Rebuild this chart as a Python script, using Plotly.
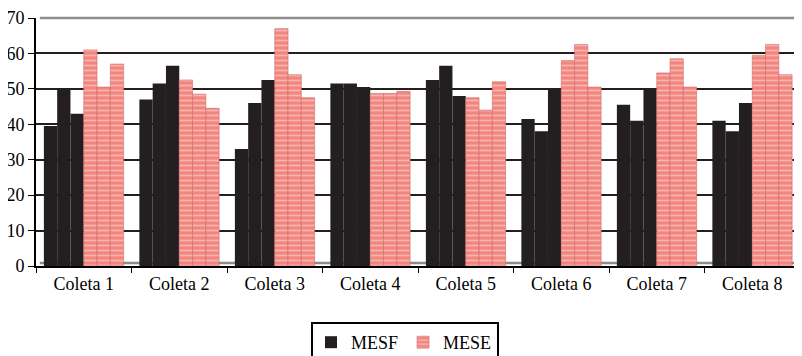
import plotly.graph_objects as go

categories = ["Coleta 1", "Coleta 2", "Coleta 3", "Coleta 4", "Coleta 5", "Coleta 6", "Coleta 7", "Coleta 8"]

# MESF (black) - three bars per collection
mesf_a = [39.5, 47, 33, 51.5, 52.5, 41.5, 45.5, 41]
mesf_b = [50, 51.5, 46, 51.5, 56.5, 38, 41, 38]
mesf_c = [43, 56.5, 52.5, 50.5, 48, 50, 50, 46]

# MESE (pink pattern) - three bars per collection
mese_a = [61, 52.5, 67, 48.7, 47.5, 58, 54.5, 59.5]
mese_b = [50.5, 48.5, 54, 48.7, 44, 62.5, 58.5, 62.5]
mese_c = [57, 44.5, 47.5, 49.3, 52, 50.5, 50.5, 54]

y_ticks = [0, 10, 20, 30, 40, 50, 60, 70]

BLACK = "#231f20"
PINK = "#f3857f"
FONT = "Liberation Serif, Times New Roman, serif"

fig = go.Figure()

for i, vals in enumerate([mesf_a, mesf_b, mesf_c]):
    fig.add_trace(go.Bar(
        x=categories, y=vals, name="MESF", legendgroup="MESF",
        showlegend=(i == 0),
        marker=dict(color=BLACK, line=dict(width=0)),
    ))

for i, vals in enumerate([mese_a, mese_b, mese_c]):
    fig.add_trace(go.Bar(
        x=categories, y=vals, name="MESE", legendgroup="MESE",
        showlegend=(i == 0),
        marker=dict(color=PINK,
                    line=dict(color="#d06a66", width=0.6),
                    pattern=dict(shape="-", fgcolor="#fde3e1", bgcolor=PINK, size=5,
                                 solidity=0.35, fillmode="overlay")),
    ))

fig.update_layout(
    width=802, height=356,
    margin=dict(l=28, r=10, t=10, b=98, autoexpand=False),
    paper_bgcolor="white", plot_bgcolor="white",
    barmode="group", bargap=0.165, bargroupgap=0,
    font=dict(family=FONT, size=18, color="black"),
    legend=dict(orientation="h", x=0.483, xanchor="center",
                yref="container", y=1 - 314 / 356, yanchor="top",
                bordercolor="black", borderwidth=2, font=dict(size=18, family=FONT),
                itemwidth=30, tracegroupgap=0),
    showlegend=True,
)

fig.update_xaxes(
    type="category", showgrid=False, showline=True, linecolor="black", linewidth=2,
    ticks="outside", tickson="boundaries", ticklen=5, tickcolor="black",
    tickfont=dict(size=18, family=FONT), automargin=False,
)
fig.update_yaxes(
    range=[0, 70], tickvals=y_ticks, showgrid=True, gridcolor=BLACK, gridwidth=1.5,
    showline=True, linecolor="black", linewidth=2, ticks="outside", ticklen=6,
    tickcolor="black", tickfont=dict(size=18, family=FONT), zeroline=False,
    automargin=False, ticklabeloverflow="allow",
)

# gray back-wall frame (top and right edges, floor)
fig.add_shape(type="line", xref="paper", yref="paper", x0=0.005, x1=0.995, y0=1, y1=1,
              line=dict(color="#8c8c8c", width=2.5))
fig.add_shape(type="line", xref="paper", yref="paper", x0=0.995, x1=0.995, y0=0.01, y1=1,
              line=dict(color="#8c8c8c", width=1.5))
fig.add_shape(type="line", xref="paper", yref="paper", x0=0.005, x1=0.995, y0=0.012, y1=0.012,
              line=dict(color="#8c8c8c", width=2.5), layer="below")

fig.write_html("out.html")
